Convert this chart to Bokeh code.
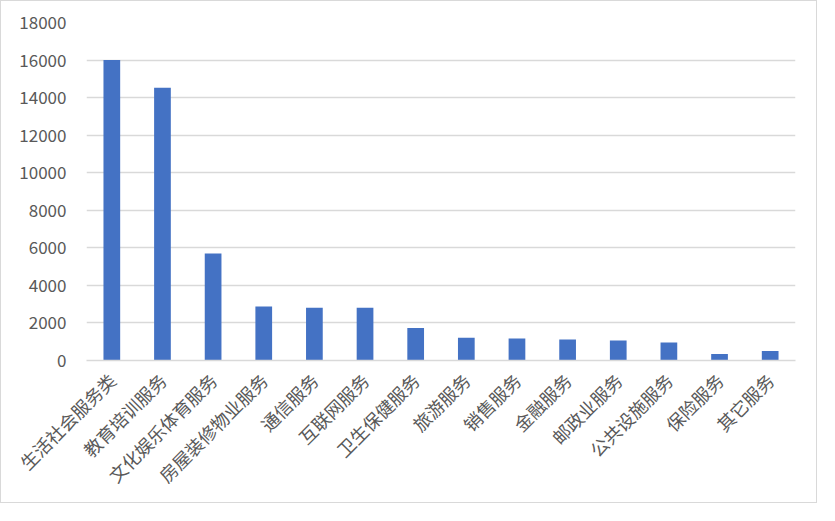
import math
from bokeh.plotting import figure
from bokeh.models import Range1d, FactorRange, SingleIntervalTicker, NumeralTickFormatter
from bokeh.embed import file_html
from bokeh.resources import INLINE

categories = ["生活社会服务类", "教育培训服务", "文化娱乐体育服务", "房屋装修物业服务",
              "通信服务", "互联网服务", "卫生保健服务", "旅游服务", "销售服务",
              "金融服务", "邮政业服务", "公共设施服务", "保险服务", "其它服务"]
values = [16000, 14520, 5700, 2880, 2810, 2810, 1730, 1215, 1165, 1115, 1060, 960, 345, 500]

FONT = "Noto Sans CJK SC"
GRAY_TEXT = "#595959"
GRID = "#D9D9D9"

p = figure(x_range=FactorRange(factors=categories), y_range=Range1d(0, 18000),
           width=817, height=503, output_backend="svg", toolbar_location=None,
           min_border_left=85, min_border_right=23, min_border_top=21, min_border_bottom=144)
p.styles = {"border": "1px solid #D9D9D9"}

p.vbar(x=categories, top=values, width=0.33, color="#4472C4", line_color=None)

p.outline_line_color = None
p.xgrid.grid_line_color = None
p.ygrid.grid_line_color = GRID
p.ygrid.grid_line_width = 1.5

p.yaxis.ticker = SingleIntervalTicker(interval=2000)
p.yaxis.formatter = NumeralTickFormatter(format="0")
p.yaxis.axis_line_color = None
p.yaxis.major_tick_line_color = None
p.yaxis.minor_tick_line_color = None
p.yaxis.major_label_text_font = FONT
p.yaxis.major_label_text_font_size = "17px"
p.yaxis.major_label_text_color = GRAY_TEXT
p.yaxis.major_label_standoff = 14

p.xaxis.axis_line_color = GRID
p.xaxis.axis_line_width = 1.5
p.xaxis.major_tick_line_color = None
p.xaxis.minor_tick_line_color = None
p.xaxis.major_label_orientation = math.pi / 4
p.xaxis.major_label_text_font = FONT
p.xaxis.major_label_text_font_size = "18px"
p.xaxis.major_label_text_color = GRAY_TEXT
p.xaxis.major_label_standoff = 10

open("out.html", "w").write(file_html(p, INLINE))
